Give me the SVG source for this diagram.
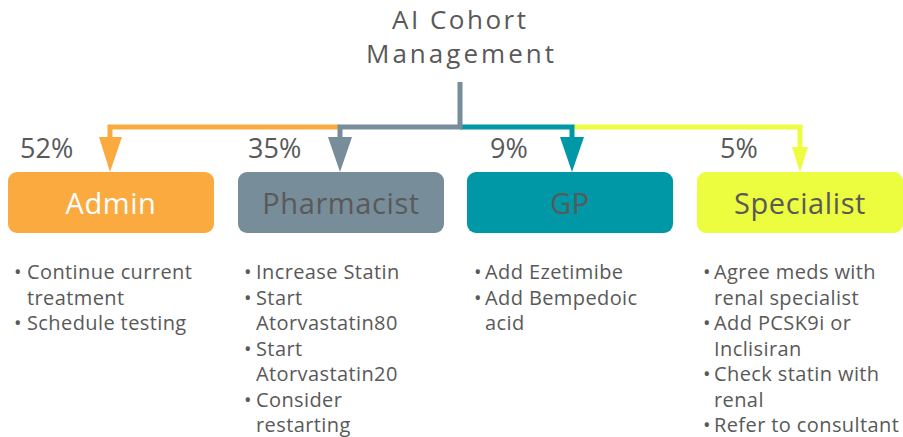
<svg xmlns="http://www.w3.org/2000/svg" width="903" height="437" viewBox="0 0 903 437">
<style>
text{font-family:"Open Sans","Noto Sans","Liberation Sans",sans-serif;fill:#595959}
.title{font-size:26px}
.pct{font-size:27px}
.lbl{font-size:29px;text-anchor:middle;letter-spacing:0.6px}
.b{font-size:20px;letter-spacing:0.4px}
.ln{fill:none;stroke-width:5;stroke-linejoin:miter}
</style>
<rect width="903" height="437" fill="#ffffff"/>
<g id="title">
<text class="title" x="392" y="29" textLength="134" lengthAdjust="spacing">AI Cohort</text>
<text class="title" x="366" y="63" textLength="188" lengthAdjust="spacing">Management</text>
</g>
<g id="connectors">
<path class="ln" stroke="#FBAA40" d="M340 127 H110 V140"/>
<path class="ln" stroke="#ECFC3E" d="M572 127 H800 V150"/>
<path class="ln" stroke="#0097A7" d="M460 127 H572 V140"/>
<path class="ln" stroke="#778D99" d="M460 82 V127 H340 V140"/>
<polygon fill="#FBAA40" points="99,137 122,137 110,172"/>
<polygon fill="#778D99" points="328,137 352,137 340,172"/>
<polygon fill="#0097A7" points="560,137 584,137 572,172"/>
<polygon fill="#ECFC3E" points="792,147 808,147 800,172"/>
</g>
<g id="pcts">
<text class="pct" x="20" y="158">52%</text>
<text class="pct" x="248" y="158">35%</text>
<text class="pct" x="490" y="158">9%</text>
<text class="pct" x="720" y="158">5%</text>
</g>
<g id="admin">
<rect x="8" y="172" width="206" height="61" rx="9" fill="#FBAA40"/>
<text class="lbl" x="111" y="214" style="fill:#ffffff">Admin</text>
<text class="b" x="14" y="279">•</text>
<text class="b" x="27" y="279">Continue current</text>
<text class="b" x="27" y="304.5">treatment</text>
<text class="b" x="14" y="330">•</text>
<text class="b" x="27" y="330">Schedule testing</text>
</g>
<g id="pharmacist">
<rect x="238" y="172" width="206" height="61" rx="9" fill="#778D99"/>
<text class="lbl" x="341" y="214">Pharmacist</text>
<text class="b" x="244" y="279">•</text>
<text class="b" x="256" y="279">Increase Statin</text>
<text class="b" x="244" y="304.5">•</text>
<text class="b" x="256" y="304.5">Start</text>
<text class="b" x="256" y="330">Atorvastatin80</text>
<text class="b" x="244" y="355.5">•</text>
<text class="b" x="256" y="355.5">Start</text>
<text class="b" x="256" y="381">Atorvastatin20</text>
<text class="b" x="244" y="406.5">•</text>
<text class="b" x="256" y="406.5">Consider</text>
<text class="b" x="256" y="432">restarting</text>
</g>
<g id="gp">
<rect x="467" y="172" width="206" height="61" rx="9" fill="#0097A7"/>
<text class="lbl" x="570" y="214">GP</text>
<text class="b" x="474" y="279">•</text>
<text class="b" x="485" y="279">Add Ezetimibe</text>
<text class="b" x="474" y="304.5">•</text>
<text class="b" x="485" y="304.5">Add Bempedoic</text>
<text class="b" x="485" y="330">acid</text>
</g>
<g id="specialist">
<rect x="697" y="172" width="206" height="61" rx="9" fill="#ECFC3E"/>
<text class="lbl" x="800" y="214">Specialist</text>
<text class="b" x="703" y="279">•</text>
<text class="b" x="714" y="279">Agree meds with</text>
<text class="b" x="714" y="304.5">renal specialist</text>
<text class="b" x="703" y="330">•</text>
<text class="b" x="714" y="330">Add PCSK9i or</text>
<text class="b" x="714" y="355.5">Inclisiran</text>
<text class="b" x="703" y="381">•</text>
<text class="b" x="714" y="381">Check statin with</text>
<text class="b" x="714" y="406.5">renal</text>
<text class="b" x="703" y="432">•</text>
<text class="b" x="714" y="432">Refer to consultant</text>
</g>
</svg>
